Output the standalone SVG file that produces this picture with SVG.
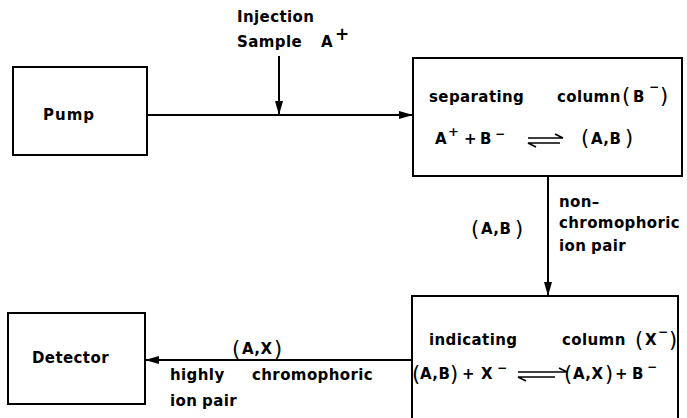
<svg xmlns="http://www.w3.org/2000/svg" width="687" height="418" viewBox="0 0 687 418">
<style>
text{font-family:"DejaVu Sans","Liberation Sans",sans-serif;font-weight:bold;font-size:15px;fill:#000;letter-spacing:0.4px}
.p{font-size:21px;font-weight:normal}
.s{font-size:12px}
.box{fill:none;stroke:#000;stroke-width:2}
.ln{fill:none;stroke:#000;stroke-width:2}
.hp{fill:none;stroke:#000;stroke-width:1.6}
</style>
<defs>
<marker id="ah" viewBox="0 0 14 8" refX="13" refY="4" markerWidth="14" markerHeight="8" markerUnits="userSpaceOnUse" orient="auto">
<path d="M0,0 L14,4 L0,8 Z" fill="#000"/>
</marker>
</defs>
<g id="connectors">
<line class="ln" x1="147" y1="115" x2="412" y2="115" marker-end="url(#ah)"/>
<line class="ln" x1="279" y1="56" x2="279" y2="114" marker-end="url(#ah)"/>
<line class="ln" x1="548" y1="176" x2="548" y2="295" marker-end="url(#ah)"/>
<line class="ln" x1="412" y1="360" x2="146" y2="360" marker-end="url(#ah)"/>
</g>
<g id="injection">
<text x="237" y="22">Injection</text>
<text x="237" y="47">Sample<tspan x="321">A</tspan></text>
<text x="335" y="40" style="font-size:17px">+</text>
</g>
<g id="pump">
<rect class="box" x="13" y="67" width="134" height="88"/>
<text x="43" y="120" style="letter-spacing:1px">Pump</text>
</g>
<g id="separating">
<rect class="box" x="413" y="58" width="269" height="118"/>
<text x="429" y="102">separating<tspan x="557">column</tspan></text>
<text x="622" y="103" class="p">(</text>
<text x="633" y="102">B</text>
<text x="649" y="91" class="s">−</text>
<text x="660" y="103" class="p">)</text>
<text x="435" y="144">A</text>
<text x="448" y="136" class="s" style="font-size:13px">+</text>
<text x="464" y="144">+</text>
<text x="480" y="144">B</text>
<text x="495" y="138" class="s">−</text>
<path class="hp" d="M528,138 H563 L555,134 M560,143 H528 L536,147"/>
<text x="581" y="145" class="p">(</text>
<text x="591" y="144">A,B</text>
<text x="625" y="145" class="p">)</text>
</g>
<g id="label-ab">
<text x="471" y="236" class="p">(</text>
<text x="481" y="234">A,B</text>
<text x="515" y="236" class="p">)</text>
<text x="559" y="207">non–</text>
<text x="559" y="228">chromophoric</text>
<text x="559" y="251">ion<tspan x="591">pair</tspan></text>
</g>
<g id="indicating">
<rect class="box" x="412" y="296" width="266" height="140"/>
<text x="429" y="345">indicating<tspan x="562">column</tspan></text>
<text x="635" y="347" class="p">(</text>
<text x="645" y="345">X</text>
<text x="658" y="336" class="s">−</text>
<text x="669" y="347" class="p">)</text>
<text x="412" y="381" class="p">(</text>
<text x="420" y="379">A,B</text>
<text x="450" y="381" class="p">)</text>
<text x="462" y="379">+</text>
<text x="481" y="379">X</text>
<text x="497" y="372" class="s">−</text>
<path class="hp" d="M518,372 H567 L559,368 M555,377 H518 L526,381"/>
<text x="564" y="381" class="p">(</text>
<text x="573" y="379">A,X</text>
<text x="605" y="381" class="p">)</text>
<text x="615" y="379">+</text>
<text x="632" y="379">B</text>
<text x="647" y="371" class="s">−</text>
</g>
<g id="label-ax">
<text x="232" y="356" class="p">(</text>
<text x="242" y="354">A,X</text>
<text x="274" y="356" class="p">)</text>
<text x="170" y="380">highly<tspan x="252">chromophoric</tspan></text>
<text x="170" y="406">ion<tspan x="202">pair</tspan></text>
</g>
<g id="detector">
<rect class="box" x="8" y="313" width="137" height="91"/>
<text x="32" y="363">Detector</text>
</g>
</svg>
